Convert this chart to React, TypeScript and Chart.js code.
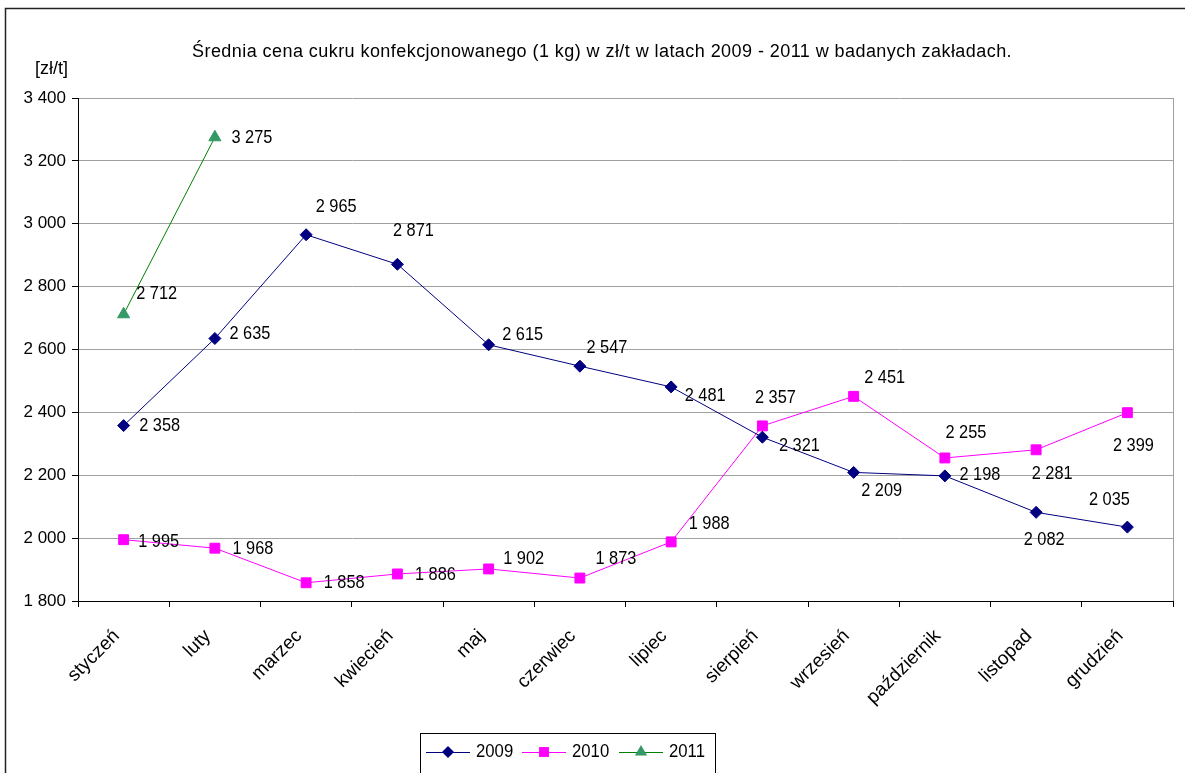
import React, { useEffect, useRef } from 'react';
import { Chart, registerables } from 'chart.js';

Chart.register(...registerables);

const months = ['styczeń', 'luty', 'marzec', 'kwiecień', 'maj', 'czerwiec', 'lipiec', 'sierpień', 'wrzesień', 'październik', 'listopad', 'grudzień'];
const values2009 = [2358, 2635, 2965, 2871, 2615, 2547, 2481, 2321, 2209, 2198, 2082, 2035];
const values2010 = [1995, 1968, 1858, 1886, 1902, 1873, 1988, 2357, 2451, 2255, 2281, 2399];
const values2011: (number | null)[] = [2712, 3275, null, null, null, null, null, null, null, null, null, null];
const yMin = 1800;
const yMax = 3400;
const yStep = 200;
const titleText = 'Średnia cena cukru konfekcjonowanego (1 kg) w zł/t w latach 2009 - 2011 w badanych zakładach.';
const unitText = '[zł/t]';
const seriesNames = ['2009', '2010', '2011'];

// label placement (offset of label centre from its point, in px) — styling only
const labelOffsets: [number, number][][] = [
  [[36, 0], [35, -5], [30, -28], [16, -34], [34, -10], [27, -18], [34, 9], [37, 9], [28, 18], [35, -1], [8, 27], [-18, -27]],
  [[35, 2], [38, 1], [38, 0], [38, 1], [35, -10], [36, -19], [38, -18], [13, -28], [31, -19], [21, -25], [16, 24], [6, 33]],
  [[33, -21], [37, 0]],
];

const FONT = '"Liberation Sans", Arial, sans-serif';

const fmt = (v: number) => String(v).replace(/\B(?=(\d{3})+(?!\d))/g, ' ');

function drawMarker(ctx: CanvasRenderingContext2D, style: string, x: number, y: number, r: number, color: string) {
  ctx.save();
  ctx.fillStyle = color;
  ctx.beginPath();
  if (style === 'rectRot') {
    ctx.moveTo(x, y - r);
    ctx.lineTo(x + r, y);
    ctx.lineTo(x, y + r);
    ctx.lineTo(x - r, y);
  } else if (style === 'rect') {
    const s = r * Math.SQRT1_2;
    ctx.rect(x - s, y - s, 2 * s, 2 * s);
  } else {
    const w = r * Math.sqrt(3) / 2;
    ctx.moveTo(x, y - r);
    ctx.lineTo(x + w, y + r / 2);
    ctx.lineTo(x - w, y + r / 2);
  }
  ctx.closePath();
  ctx.fill();
  ctx.restore();
}

const decorPlugin = {
  id: 'decor',
  afterDatasetsDraw(chart: any) {
    const ctx: CanvasRenderingContext2D = chart.ctx;
    ctx.save();
    ctx.fillStyle = '#000';
    ctx.font = `19px ${FONT}`;
    ctx.textAlign = 'center';
    ctx.textBaseline = 'middle';
    chart.data.datasets.forEach((ds: any, di: number) => {
      const meta = chart.getDatasetMeta(di);
      meta.data.forEach((pt: any, i: number) => {
        const v = ds.data[i];
        if (v === null || v === undefined) return;
        const off = (labelOffsets[di] && labelOffsets[di][i]) || [30, 0];
        ctx.save();
        ctx.translate(pt.x + off[0], pt.y + off[1]);
        ctx.scale(0.86, 1);
        ctx.fillText(fmt(v), 0, 0);
        ctx.restore();
      });
    });
    ctx.restore();
  },
  afterDraw(chart: any) {
    const ctx: CanvasRenderingContext2D = chart.ctx;
    const area = chart.chartArea;
    ctx.save();
    // plot area right border
    ctx.strokeStyle = '#a0a0a0';
    ctx.lineWidth = 1;
    ctx.beginPath();
    ctx.moveTo(Math.round(area.right) + 0.5, area.top);
    ctx.lineTo(Math.round(area.right) + 0.5, area.bottom);
    ctx.stroke();

    // outer frame
    ctx.strokeStyle = '#222';
    ctx.lineWidth = 1.5;
    ctx.strokeRect(5.5, 8.5, 3000, 3000);

    // title
    ctx.fillStyle = '#000';
    ctx.font = `18px ${FONT}`;
    ctx.textAlign = 'left';
    ctx.textBaseline = 'alphabetic';
    const w0 = ctx.measureText(titleText).width;
    const targetW = 820;
    const ls = (targetW - w0) / (titleText.length - 1);
    (ctx as any).letterSpacing = `${ls.toFixed(2)}px`;
    ctx.fillText(titleText, 192, 57);
    (ctx as any).letterSpacing = '0px';

    // unit
    ctx.font = `18px ${FONT}`;
    ctx.fillText(unitText, 35, 74);

    // legend
    const lx = 420, ly = 733, lw = 295;
    ctx.strokeStyle = '#000';
    ctx.lineWidth = 1;
    ctx.strokeRect(lx + 0.5, ly + 0.5, lw, 80);
    const items = [
      { name: seriesNames[0], color: '#000080', marker: 'rectRot', mcolor: '#000080', r: 6, x: 426 },
      { name: seriesNames[1], color: '#FF00FF', marker: 'rect', mcolor: '#FF00FF', r: 7, x: 522 },
      { name: seriesNames[2], color: '#008000', marker: 'triangle', mcolor: '#339966', r: 7, x: 619 },
    ];
    const cy = 752;
    items.forEach((it) => {
      ctx.strokeStyle = it.color;
      ctx.lineWidth = 1;
      ctx.beginPath();
      ctx.moveTo(it.x, cy + 0.5);
      ctx.lineTo(it.x + 44, cy + 0.5);
      ctx.stroke();
      drawMarker(ctx, it.marker, it.x + 22, cy, it.r, it.mcolor);
      ctx.fillStyle = '#000';
      ctx.font = `19px ${FONT}`;
      ctx.textBaseline = 'middle';
      ctx.save();
      ctx.translate(it.x + 50, cy);
      ctx.scale(0.88, 1);
      ctx.fillText(it.name, 0, 0);
      ctx.restore();
    });
    ctx.restore();
  },
};

export default function App() {
  const ref = useRef<HTMLCanvasElement | null>(null);
  useEffect(() => {
    if (!ref.current) return;
    const chart = new Chart(ref.current, {
      type: 'line',
      data: {
        labels: months,
        datasets: [
          {
            label: seriesNames[0],
            data: values2009,
            borderColor: '#000080',
            backgroundColor: '#000080',
            borderWidth: 1,
            pointStyle: 'rectRot',
            pointRadius: 6,
            pointBorderWidth: 1,
            pointBackgroundColor: '#000080',
            pointBorderColor: '#000080',
          },
          {
            label: seriesNames[1],
            data: values2010,
            borderColor: '#FF00FF',
            backgroundColor: '#FF00FF',
            borderWidth: 1,
            pointStyle: 'rect',
            pointRadius: 7,
            pointBorderWidth: 1,
            pointBackgroundColor: '#FF00FF',
            pointBorderColor: '#FF00FF',
          },
          {
            label: seriesNames[2],
            data: values2011,
            borderColor: '#008000',
            backgroundColor: '#339966',
            borderWidth: 1,
            pointStyle: 'triangle',
            pointRadius: 7,
            pointBorderWidth: 1,
            pointBackgroundColor: '#339966',
            pointBorderColor: '#339966',
            spanGaps: false,
          },
        ],
      },
      options: {
        responsive: false,
        animation: false,
        layout: { padding: { top: 98, left: 0, right: 12, bottom: 0 } },
        plugins: {
          legend: { display: false },
          title: { display: false },
          tooltip: { enabled: false },
        },
        scales: {
          x: {
            type: 'category',
            offset: true,
            grid: { display: true, drawOnChartArea: false, offset: true, tickLength: 6, tickColor: '#000' },
            border: { color: '#000', width: 1 },
            ticks: {
              autoSkip: false,
              maxRotation: 45,
              minRotation: 45,
              padding: 18,
              labelOffset: -7,
              color: '#000',
              font: { family: FONT, size: 19 },
            },
            afterFit: (s: any) => { s.height = 172; },
          },
          y: {
            min: yMin,
            max: yMax,
            grid: { color: '#a0a0a0', tickLength: 6, tickColor: '#000' },
            border: { color: '#000', width: 1 },
            ticks: {
              stepSize: yStep,
              padding: 6,
              color: '#000',
              font: { family: FONT, size: 17 },
              callback: (v: any) => fmt(Number(v)),
            },
            afterFit: (s: any) => { s.width = 78; },
          },
        },
      },
      plugins: [decorPlugin],
    } as any);
    return () => chart.destroy();
  }, []);
  return (
    <div style={{ position: 'absolute', left: 0, top: 0, width: 1185, height: 773, overflow: 'hidden', background: '#fff' }}>
      <canvas ref={ref} width={1185} height={773} style={{ display: 'block' }} />
    </div>
  );
}
